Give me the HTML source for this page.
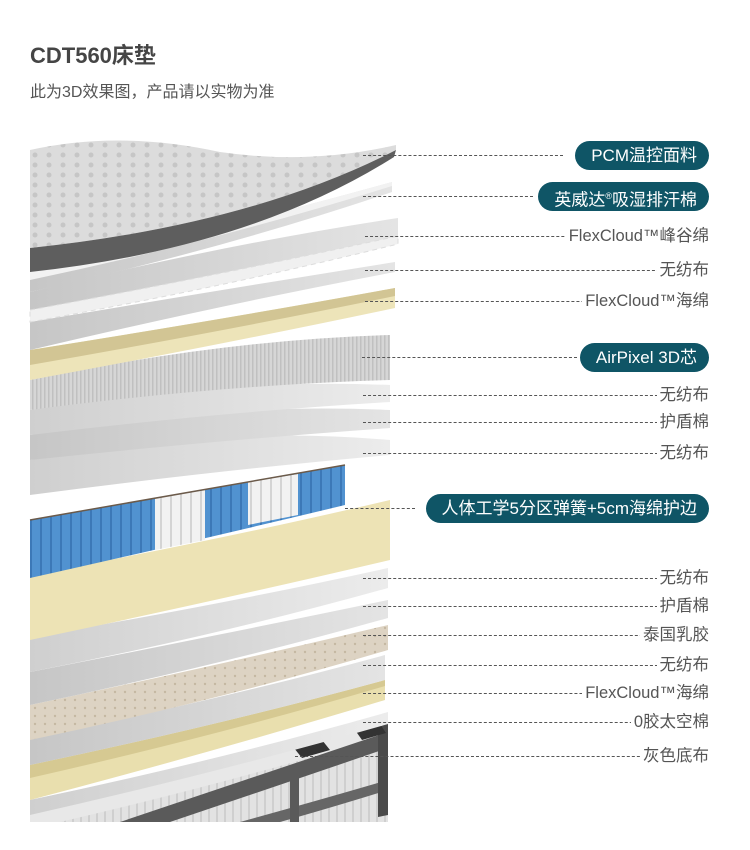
<!DOCTYPE html>
<html><head><meta charset="utf-8"><style>
html,body{margin:0;padding:0;background:#fff;}
#w{position:relative;width:750px;height:850px;overflow:hidden;font-family:"Liberation Sans","Noto Sans CJK SC",sans-serif;}
.t{position:absolute;left:30px;top:38px;font-size:22px;font-weight:bold;color:#454545;}
.s{position:absolute;left:30px;top:78px;font-size:16px;color:#555;}
.ln{position:absolute;height:0;border-top:1px dashed #555;}
.lb{position:absolute;right:41px;font-size:16.5px;color:#555;background:#fff;padding-left:3px;line-height:20px;white-space:nowrap;}
.pill{position:absolute;right:41px;height:29px;line-height:29px;border-radius:15px;background:#0f5566;color:#fff;font-size:17px;padding:0 12px 0 16px;white-space:nowrap;}
svg{position:absolute;left:0;top:0;}
</style></head><body><div id="w">
<div class="t">CDT560床垫</div>
<div class="s">此为3D效果图，产品请以实物为准</div>
<svg width="750" height="850" viewBox="0 0 750 850">
<defs>
<pattern id="dots" width="14" height="10" patternUnits="userSpaceOnUse"><rect width="14" height="10" fill="#dcdcdc"/><circle cx="7" cy="5" r="2.5" fill="#c6c6c6"/></pattern>
<pattern id="str" width="4" height="4" patternUnits="userSpaceOnUse"><rect width="4" height="4" fill="#d6d6d6"/><rect width="1.5" height="4" fill="#c0c0c0"/></pattern>
<pattern id="lat" width="10" height="8" patternUnits="userSpaceOnUse"><rect width="10" height="8" fill="#ddd3c3"/><circle cx="5" cy="4" r="1.2" fill="#c5b8a2"/></pattern>
<pattern id="spr" width="10" height="10" patternUnits="userSpaceOnUse"><rect width="10" height="10" fill="#5192d0"/><rect width="2" height="10" fill="#3c78b7"/></pattern>
<pattern id="sprw" width="10" height="10" patternUnits="userSpaceOnUse"><rect width="10" height="10" fill="#f2f2f2"/><rect width="2" height="10" fill="#d4d4d4"/></pattern>
<pattern id="side" width="8" height="10" patternUnits="userSpaceOnUse"><rect width="8" height="10" fill="#e2e2e2"/><rect width="2" height="10" fill="#cfcfcf"/></pattern>
<linearGradient id="g" x1="0" x2="1" y1="0" y2="0"><stop offset="0" stop-color="#c6c6c6"/><stop offset="1" stop-color="#e4e4e4"/></linearGradient>
<linearGradient id="g2" x1="0" x2="1" y1="0" y2="0"><stop offset="0" stop-color="#cfcfcf"/><stop offset="1" stop-color="#ececec"/></linearGradient>
</defs>
<!-- bottom mattress -->
<path d="M30,800 Q220,760 388,722 L388,822 L30,822 Z" fill="url(#side)"/>
<path d="M30,812 Q220,770 388,722 L388,735 Q220,785 60,822 L30,822 Z" fill="#e8e8e8"/>
<path d="M120,822 Q260,775 388,732 L388,748 Q280,785 170,822 Z" fill="#5a5a5a"/>
<path d="M240,822 Q320,800 388,780 L388,790 Q330,808 280,822 Z" fill="#666"/>
<path d="M388,722 L388,815 L378,817 L378,728 Z" fill="#4a4a4a"/>
<rect x="290" y="768" width="9" height="54" fill="#5a5a5a"/>
<path d="M294,748 L322,740 L330,750 L302,758 Z" fill="#333"/>
<path d="M355,730 L380,724 L386,733 L362,740 Z" fill="#333"/>
<!-- 0胶 -->
<path d="M30,800 Q220,760 388,712 L388,724 Q220,772 30,815 Z" fill="url(#g2)"/>
<!-- yellow -->
<path d="M30,765 Q220,725 385,680 L385,700 Q220,750 30,800 Z" fill="#e9dfae"/>
<path d="M30,765 Q220,725 385,680 L385,686 Q220,735 30,778 Z" fill="#d6c992"/>
<!-- grey -->
<path d="M30,738 Q220,700 385,655 L385,680 Q220,725 30,765 Z" fill="url(#g)"/>
<!-- latex -->
<path d="M30,705 Q220,665 388,625 L388,650 Q220,700 30,740 Z" fill="url(#lat)"/>
<!-- grey K -->
<path d="M30,672 Q220,635 388,600 L388,618 Q220,665 30,705 Z" fill="url(#g)"/>
<!-- grey J -->
<path d="M30,637 Q220,605 388,568 L388,588 Q220,635 30,672 Z" fill="url(#g2)"/>
<!-- yellow spring frame -->
<path d="M30,575 Q220,540 390,500 L390,560 Q220,600 30,640 Z" fill="#ede3b5"/>
<!-- springs -->
<path d="M30,520 Q200,490 345,465 L345,505 Q200,540 30,578 Z" fill="url(#spr)"/>
<path d="M155,498 L205,490 L205,540 L155,550 Z" fill="url(#sprw)"/>
<path d="M248,482 L298,474 L298,515 L248,525 Z" fill="url(#sprw)"/>
<path d="M30,520 Q200,490 345,465" stroke="#6b5a4a" stroke-width="1.5" fill="none"/>
<!-- grey layers above springs -->
<path d="M30,460 Q220,425 390,440 L390,455 Q220,470 30,495 Z" fill="url(#g2)"/>
<path d="M30,435 Q220,402 390,410 L390,428 Q220,440 30,460 Z" fill="url(#g)"/>
<path d="M30,410 Q220,378 390,385 L390,402 Q220,412 30,435 Z" fill="url(#g2)"/>
<!-- airpixel -->
<path d="M30,380 Q220,340 390,335 L390,380 Q220,385 30,410 Z" fill="url(#str)"/>
<!-- yellow foam -->
<path d="M30,350 Q220,320 395,288 L395,308 Q220,345 30,380 Z" fill="#ede4b9"/>
<path d="M30,350 Q220,320 395,288 L395,296 Q220,332 30,365 Z" fill="#d2c594"/>
<!-- nonwoven -->
<path d="M30,322 Q220,290 395,262 L395,272 Q220,305 30,350 Z" fill="url(#g)"/>
<!-- wave layer -->
<path d="M30,292 Q220,245 398,218 L398,238 Q220,290 30,318 Z" fill="url(#g)"/>
<path d="M30,310 Q220,275 398,236 L398,244 Q220,288 30,322 Z" fill="#f0f0f0" stroke="#ddd" stroke-dasharray="5 4"/>
<!-- white layer -->
<path d="M30,272 Q220,230 392,182 L392,192 Q220,250 30,292 Z" fill="url(#g)"/>
<path d="M30,272 Q220,230 392,182 L392,186 Q220,240 30,280 Z" fill="#f2f2f2"/>
<!-- top quilt -->
<path d="M30,150 Q120,130 220,152 Q310,165 396,145 L396,150 Q250,225 30,248 Z" fill="url(#dots)"/>
<path d="M30,248 Q250,225 396,150 L394,157 Q250,248 30,272 Z" fill="#5e5e5e"/>
</svg>
<div class="ln" style="left:363px;top:155px;width:200px"></div>
<div class="ln" style="left:363px;top:196px;width:170px"></div>
<div class="ln" style="left:365px;top:236px;width:300px"></div>
<div class="ln" style="left:365px;top:270px;width:300px"></div>
<div class="ln" style="left:365px;top:301px;width:300px"></div>
<div class="ln" style="left:362px;top:357px;width:215px"></div>
<div class="ln" style="left:363px;top:395px;width:300px"></div>
<div class="ln" style="left:363px;top:422px;width:300px"></div>
<div class="ln" style="left:363px;top:453px;width:300px"></div>
<div class="ln" style="left:345px;top:508px;width:70px"></div>
<div class="ln" style="left:363px;top:578px;width:300px"></div>
<div class="ln" style="left:363px;top:606px;width:300px"></div>
<div class="ln" style="left:363px;top:635px;width:300px"></div>
<div class="ln" style="left:363px;top:665px;width:300px"></div>
<div class="ln" style="left:363px;top:693px;width:300px"></div>
<div class="ln" style="left:363px;top:722px;width:300px"></div>
<div class="ln" style="left:295px;top:756px;width:370px"></div>
<div class="pill" style="top:141px">PCM温控面料</div>
<div class="pill" style="top:182px">英威达<sup style="font-size:9px">®</sup>吸湿排汗棉</div>
<div class="lb" style="top:226px">FlexCloud™峰谷绵</div>
<div class="lb" style="top:260px">无纺布</div>
<div class="lb" style="top:291px">FlexCloud™海绵</div>
<div class="pill" style="top:343px">AirPixel 3D芯</div>
<div class="lb" style="top:385px">无纺布</div>
<div class="lb" style="top:412px">护盾棉</div>
<div class="lb" style="top:443px">无纺布</div>
<div class="pill" style="top:494px">人体工学5分区弹簧+5cm海绵护边</div>
<div class="lb" style="top:568px">无纺布</div>
<div class="lb" style="top:596px">护盾棉</div>
<div class="lb" style="top:625px">泰国乳胶</div>
<div class="lb" style="top:655px">无纺布</div>
<div class="lb" style="top:683px">FlexCloud™海绵</div>
<div class="lb" style="top:712px">0胶太空棉</div>
<div class="lb" style="top:746px">灰色底布</div>
</div></body></html>
